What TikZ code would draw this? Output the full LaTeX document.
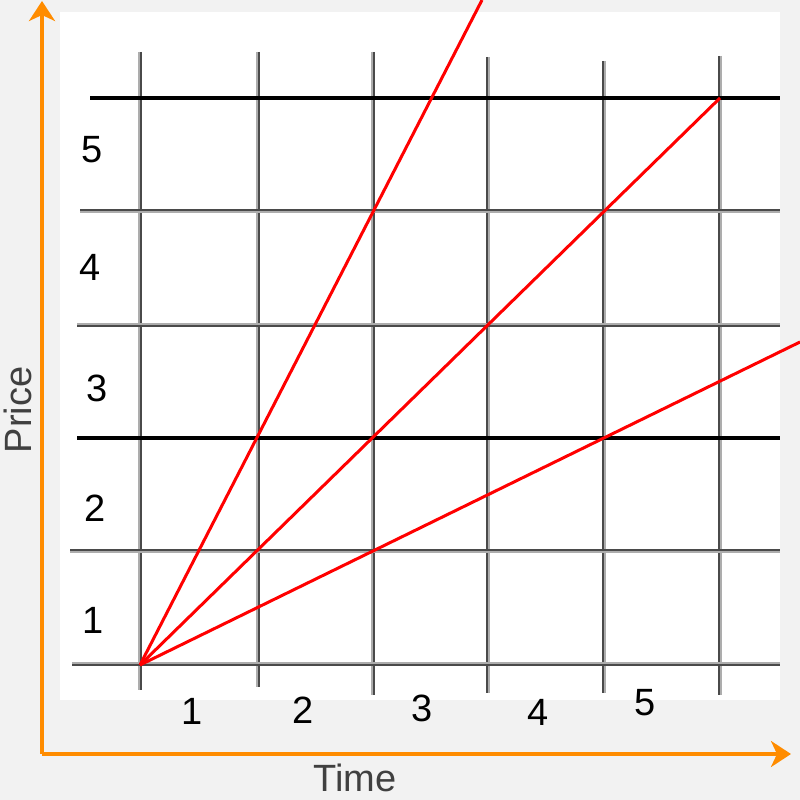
\documentclass[tikz,border=0pt]{standalone}
\usepackage{fontspec}
\setmainfont{Liberation Sans}
\usetikzlibrary{arrows.meta}
\definecolor{bggray}{HTML}{F2F2F2}
\definecolor{axorange}{HTML}{FF8C00}
\definecolor{gdark}{HTML}{4A4A4A}
\definecolor{glight}{HTML}{ADADAD}
\tikzset{
  axis/.style={draw=axorange, line width=3.5pt, -{Stealth[length=20pt,width=26pt,inset=6pt]}},
  darkline/.style={draw=gdark, line width=2pt},
  lightline/.style={draw=glight, line width=2pt},
  blackline/.style={draw=black, line width=3.5pt},
  trend/.style={draw=red, line width=3pt},
  lbl/.style={font=\fontsize{38}{38}\selectfont, inner sep=0pt}
}
\begin{document}
\begin{tikzpicture}[x=1pt,y=-1pt]
\useasboundingbox (0,0) rectangle (800,800);
\fill[bggray] (0,0) rectangle (800,800);
\fill[white] (60,12) rectangle (780,700);
% vertical grid lines (light left / dark right)
\foreach \x/\t/\b in {140/52/690, 258/52/687, 373/52/695}{
  \draw[lightline] (\x-1,\t) -- (\x-1,\b);
  \draw[darkline] (\x+1,\t) -- (\x+1,\b);
}
\foreach \x/\t/\b in {488/57/693, 604/61/693, 720/56/695}{
  \draw[darkline] (\x-1,\t) -- (\x-1,\b);
  \draw[lightline] (\x+1,\t) -- (\x+1,\b);
}
% horizontal grid lines
\draw[blackline] (90,98) -- (780,98);
\draw[darkline] (80,210) -- (780,210);
\draw[lightline] (80,212) -- (780,212);
\draw[lightline] (77,324) -- (780,324);
\draw[darkline] (77,326) -- (780,326);
\draw[blackline] (77,438) -- (780,438);
\draw[darkline] (70,550) -- (780,550);
\draw[lightline] (70,552) -- (780,552);
\draw[lightline] (72,663) -- (780,663);
\draw[darkline] (72,665) -- (780,665);
% trend lines
\coordinate (O) at (140,665);
\coordinate (E1) at (482,0);
\coordinate (E2) at (720,98);
\coordinate (E3) at (800,342);
\draw[trend] (O) -- (E1);
\draw[trend] (O) -- (E2);
\draw[trend] (O) -- (E3);
% price labels
\node[lbl] (p5) at (92,150) {5};
\node[lbl] (p4) at (90,267) {4};
\node[lbl] (p3) at (97,388) {3};
\node[lbl] (p2) at (95,508) {2};
\node[lbl] (p1) at (93,620) {1};
% time labels
\node[lbl] (t1) at (192,711) {1};
\node[lbl] (t2) at (303,710) {2};
\node[lbl] (t3) at (422,708) {3};
\node[lbl] (t4) at (538,712) {4};
\node[lbl] (t5) at (645,703) {5};
% axes
\coordinate (C) at (42,754);
\coordinate (YT) at (42,1);
\coordinate (XT) at (791,754);
\draw[axis] (C) -- (YT);
\draw[axis] (C) -- (XT);
\node[lbl, rotate=90, text=black!75] (price) at (18,410) {Price};
\node[lbl, text=black!75] (time) at (355,778) {Time};
\end{tikzpicture}
\end{document}
